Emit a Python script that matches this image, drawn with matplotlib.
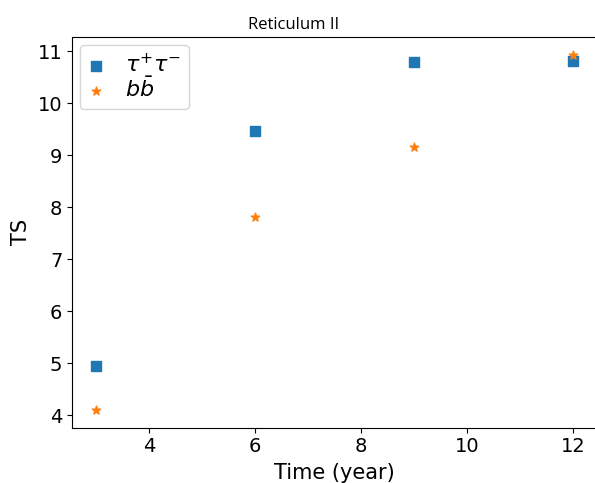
import matplotlib
matplotlib.use("Agg")
import matplotlib.pyplot as plt

# Data
years = [3, 6, 9, 12]
ts_tautau = [4.95, 9.46, 10.79, 10.81]
ts_bb = [4.10, 7.82, 9.17, 10.94]

fig = plt.figure(figsize=(5.95, 4.83), dpi=100)
ax = fig.add_axes([0.121, 0.1147, 0.882, 0.809])

ax.scatter(years, ts_tautau, marker="s", s=60, color="#1f77b4", label=r"$\tau^{+}\tau^{-}$")
ax.scatter(years, ts_bb, marker="*", s=40, color="#ff7f0e", label=r"$b\bar{b}$")

ax.set_xticks([4, 6, 8, 10, 12])
ax.set_yticks([4, 5, 6, 7, 8, 9, 10, 11])
ax.tick_params(labelsize=14)
ax.set_xlabel("Time (year)", fontsize=15, labelpad=5)
ax.set_ylabel("TS", fontsize=15, labelpad=5)
fig.suptitle("Reticulum II", fontsize=12, family="Open Sans", x=0.494, y=0.965)
ax.legend(loc="upper left", fontsize=16, handlelength=0.8, handletextpad=0.9,
          labelspacing=0.05, borderpad=0.35, borderaxespad=0.35)

fig.savefig("out.png", dpi=100)
